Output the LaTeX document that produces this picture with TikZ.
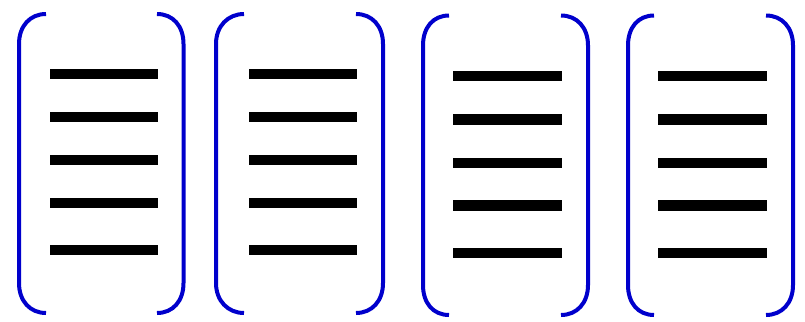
\documentclass[tikz,border=0pt]{standalone}
\definecolor{brblue}{RGB}{0,0,204}
\tikzset{
  brline/.style={draw=brblue, line width=4pt},
  barline/.style={draw=black, line width=10.5pt}
}
% #1 left x, #2 left end x, #3 right end x, #4 right x, #5 top y, #6 bottom y, #7 bar left, #8 bar right, #9 bar y list
\newcommand\brgroup[9]{%
  \draw[brline] (#2,#5) .. controls ({#2-16},#5) and (#1,{#5+12}) .. (#1,{#5+30})
     -- (#1,{#6-30}) .. controls (#1,{#6-12}) and ({#2-16},#6) .. (#2,#6);
  \draw[brline] (#3,#5) .. controls ({#3+16},#5) and (#4,{#5+12}) .. (#4,{#5+30})
     -- (#4,{#6-30}) .. controls (#4,{#6-12}) and ({#3+16},#6) .. (#3,#6);
  \foreach \yy in {#9} { \draw[barline] (#7,\yy) -- (#8,\yy); }
}
\begin{document}
\begin{tikzpicture}[x=1pt,y=-1pt]
\useasboundingbox (0,0) rectangle (805,321);
\brgroup{19}{46}{157}{183.5}{14}{313}{50}{158}{74,117,160,203,250}
\brgroup{216}{244}{356}{383}{14}{313}{249}{357}{74,117,160,203,250}
\brgroup{423}{449}{561}{588}{15.5}{315}{453}{562}{76,119.5,163,205.5,253}
\brgroup{628}{654}{766}{793}{15.5}{315}{658}{767}{76,119.5,163,205.5,253}
\end{tikzpicture}
\end{document}
